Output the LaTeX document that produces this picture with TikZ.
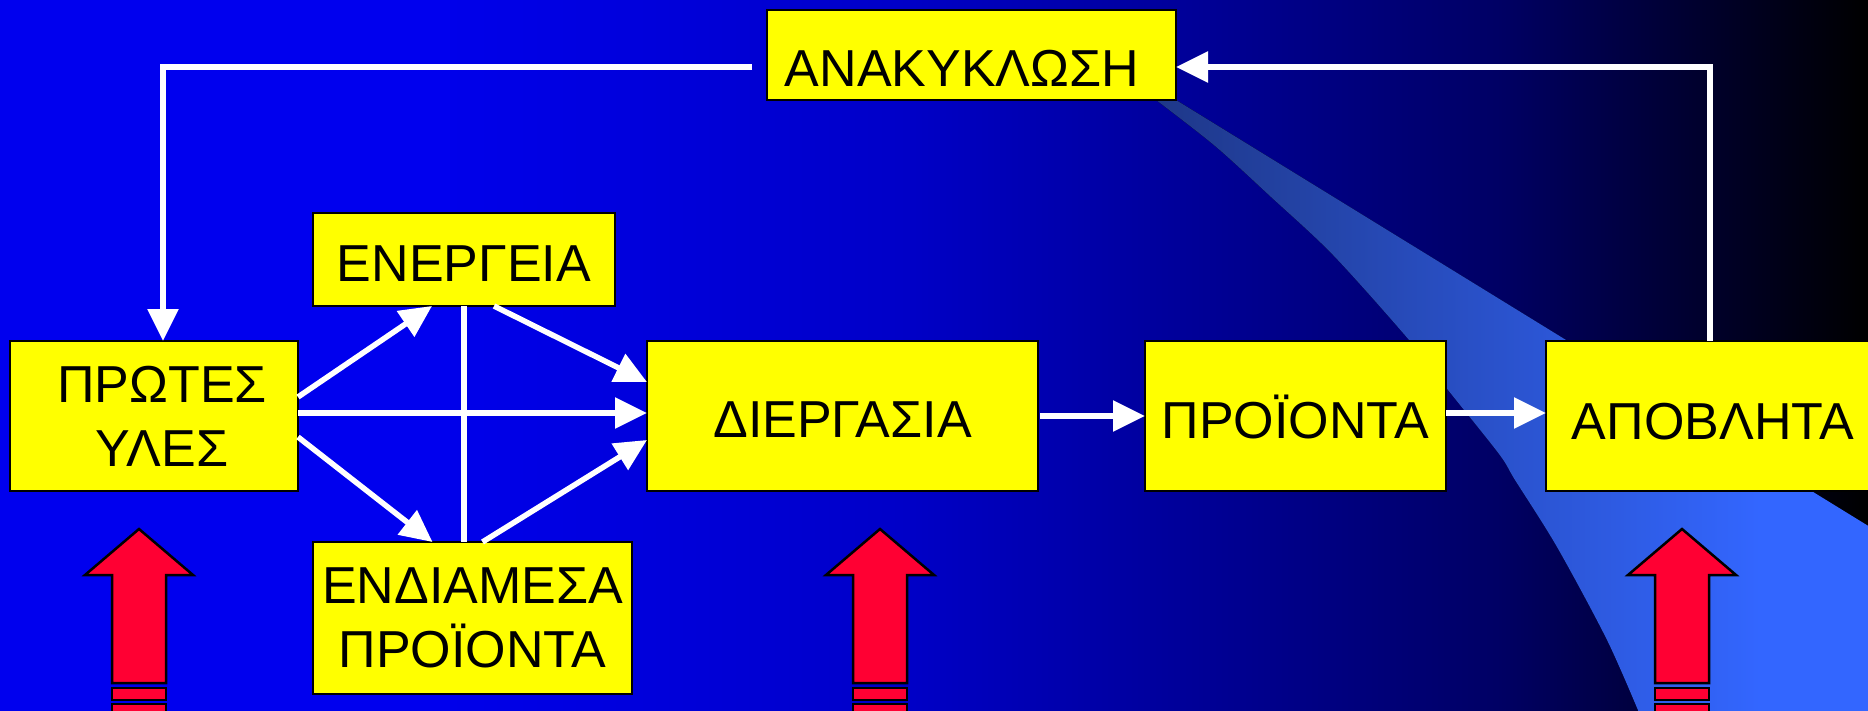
\documentclass[tikz,border=0pt]{standalone}
\usepackage{fontspec}
\setmainfont{Liberation Sans}
\usetikzlibrary{arrows.meta}
\definecolor{bgA}{RGB}{0,0,238}
\definecolor{bgB}{RGB}{0,0,234}
\definecolor{bgC}{RGB}{0,0,200}
\definecolor{bgD}{RGB}{0,0,150}
\definecolor{bgE}{RGB}{0,0,100}
\definecolor{bgF}{RGB}{0,0,45}
\definecolor{bgG}{RGB}{0,0,0}
\definecolor{swooshA}{RGB}{30,55,135}
\definecolor{swooshB}{RGB}{51,102,255}
\definecolor{boxyellow}{RGB}{255,255,0}
\definecolor{arrowred}{RGB}{255,0,51}
\tikzset{
  box/.style={draw=black, line width=2.5pt, fill=boxyellow, inner sep=0pt, outer sep=0pt,
    align=center, text=black, font=\fontsize{52}{64}\selectfont},
  conn/.style={draw=white, line width=5.5pt, -{Triangle[length=32pt,width=30pt]}},
  plainconn/.style={draw=white, line width=5.5pt},
  redarr/.style={draw=black, line width=2.5pt, fill=arrowred, line join=miter},
}
\begin{document}
\begin{tikzpicture}[x=1pt,y=-1pt]
\useasboundingbox (0,0) rectangle (1868,711);
% background gradient
\fill[bgA] (0,0) rectangle (451,711);
\fill[left color=bgB, right color=bgC] (450,0) rectangle (901,711);
\fill[left color=bgC, right color=bgD] (900,0) rectangle (1201,711);
\fill[left color=bgD, right color=bgE] (1200,0) rectangle (1501,711);
\fill[left color=bgE, right color=bgF] (1500,0) rectangle (1701,711);
\fill[left color=bgF, right color=bgG] (1700,0) rectangle (1868,711);
% light swoosh
\begin{scope}
\clip (1150,95) -- (1176,95) -- (1176,100) -- (1870,527) -- (1870,715)
  -- plot[smooth] coordinates {(1640,715) (1607,640) (1557,547) (1515,480) (1499,454) (1448,390) (1409,340) (1333,255) (1271,197) (1215,146) (1156,100)} -- cycle;
\fill[left color=swooshA, right color=swooshB] (1150,80) rectangle (1760,715);
\fill[swooshB] (1759,80) rectangle (1870,715);
\end{scope}
% boxes
\node[box, minimum width=409pt, minimum height=90pt, text height=64pt, text depth=0pt] (anakyklosi) at (971.5,55) {ΑΝΑΚΥΚΛΩΣΗ\hspace*{19pt}};
\node[box, minimum width=288pt, minimum height=150pt] (protes) at (154,416) {\hspace*{16pt}ΠΡΩΤΕΣ\\\hspace*{16pt}ΥΛΕΣ};
\node[box, minimum width=302pt, minimum height=93pt, text height=45pt, text depth=0pt] (energeia) at (464,259.5) {ΕΝΕΡΓΕΙΑ};
\node[box, minimum width=391pt, minimum height=150pt, text height=43pt, text depth=0pt] (diergasia) at (842.5,416) {ΔΙΕΡΓΑΣΙΑ};
\node[box, minimum width=301pt, minimum height=150pt, text height=44pt, text depth=0pt] (proionta) at (1295.5,416) {ΠΡΟΪΟΝΤΑ};
\node[box, minimum width=334pt, minimum height=150pt, text height=46pt, text depth=0pt] (apoblhta) at (1713,416) {ΑΠΟΒΛΗΤΑ};
\node[box, minimum width=319pt, minimum height=152pt] (endiamesa) at (472.5,618) {ΕΝΔΙΑΜΕΣΑ\\ΠΡΟΪΟΝΤΑ};
% connectors
\draw[conn] ([yshift=19pt]protes.east) -- ([xshift=-32pt]energeia.south);
\draw[conn] ([yshift=3pt]protes.east) -- ([yshift=3pt]diergasia.west);
\draw[conn] ([yshift=-21pt]protes.east) -- ([xshift=-40pt]endiamesa.north);
\draw[conn] ([xshift=30pt]energeia.south) -- ([yshift=34pt]diergasia.west);
\draw[conn] ([xshift=10pt]endiamesa.north) -- ([yshift=-24pt]diergasia.west);
\draw[plainconn] (energeia.south) -- (energeia.south |- endiamesa.north);
\draw[conn] ([xshift=2pt]diergasia.east) -- (proionta.west);
\draw[conn] ([yshift=3pt]proionta.east) -- ([yshift=3pt]apoblhta.west);
\draw[conn] ([xshift=-15pt,yshift=-12pt]anakyklosi.west) -| ([xshift=9pt]protes.north);
\draw[conn] ([xshift=-3pt]apoblhta.north) |- ([yshift=-12pt]anakyklosi.east);
% red block arrows
\foreach \cx in {139,880,1682} {
  \filldraw[redarr] (\cx,529) -- ++(54,46) -- ++(-27,0) -- ++(0,108) -- ++(-54,0) -- ++(0,-108) -- ++(-27,0) -- cycle;
  \filldraw[redarr] (\cx-27,688) rectangle (\cx+27,700);
  \filldraw[redarr] (\cx-27,704) rectangle (\cx+27,716);
}
\end{tikzpicture}
\end{document}
